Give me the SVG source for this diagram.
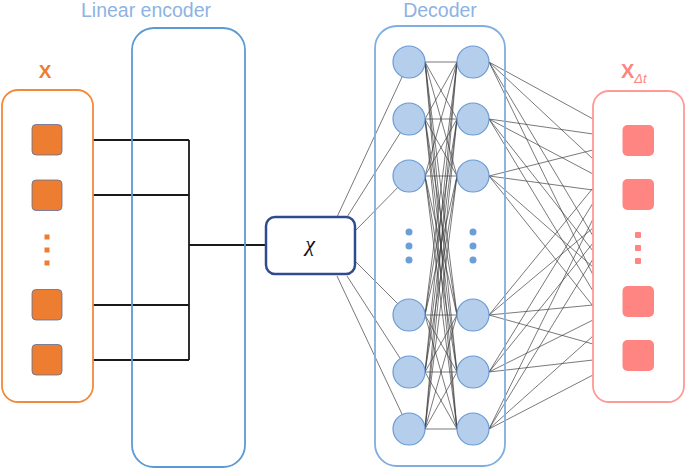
<svg xmlns="http://www.w3.org/2000/svg" width="685" height="469" viewBox="0 0 685 469">
<style>
.lbl{font-family:"Liberation Sans",Arial,sans-serif;font-size:19.5px;fill:#8DB3E2;text-anchor:middle}
.enc{stroke:#1a1a1a;stroke-width:1.8;fill:none}
.net{stroke:#3a3a3a;stroke-width:0.75;fill:none;opacity:0.9}
.node{fill:#B4CEEC;stroke:#6A9BD6;stroke-width:1.2}
.ddot{fill:#6A9FD8}
.sq{fill:#ED7D31;stroke:#5E6E9A;stroke-width:0.8}
.osq{fill:#FF8582}
</style>
<rect width="685" height="469" fill="#fff"/>
<text class="lbl" x="146" y="17">Linear encoder</text>
<text class="lbl" x="440" y="17">Decoder</text>
<g id="connectors">
<g id="enc-lines">
<path class="enc" d="M93 140H189M93 195H189M93 305H189M93 360H189M189 140V360M189 245H266"/>
</g>
<g id="chi-lines" class="net">
<line x1="337" y1="217" x2="409" y2="62"/>
<line x1="347" y1="217" x2="409" y2="119"/>
<line x1="356" y1="230" x2="409" y2="176"/>
<line x1="356" y1="262" x2="409" y2="315"/>
<line x1="347" y1="276" x2="409" y2="372"/>
<line x1="337" y1="276" x2="409" y2="429"/>
</g>
<g id="hidden-lines" class="net">
<path d="M425 62L457 62M425 62L457 119M425 62L457 176M425 62L457 315M425 62L457 372M425 62L457 429
M425 119L457 62M425 119L457 119M425 119L457 176M425 119L457 315M425 119L457 372M425 119L457 429
M425 176L457 62M425 176L457 119M425 176L457 176M425 176L457 315M425 176L457 372M425 176L457 429
M425 315L457 62M425 315L457 119M425 315L457 176M425 315L457 315M425 315L457 372M425 315L457 429
M425 372L457 62M425 372L457 119M425 372L457 176M425 372L457 315M425 372L457 372M425 372L457 429
M425 429L457 62M425 429L457 119M425 429L457 176M425 429L457 315M425 429L457 372M425 429L457 429"/>
</g>
<g id="out-lines" class="net">
<path d="M489 62L593 119M489 62L593 159M489 62L593 236M489 62L593 275
M489 119L593 134M489 119L593 174M489 119L593 251M489 119L593 291
M489 176L593 150M489 176L593 190M489 176L593 267M489 176L593 306
M489 315L593 188M489 315L593 228M489 315L593 305M489 315L593 344
M489 372L593 203M489 372L593 243M489 372L593 320M489 372L593 360
M489 429L593 219M489 429L593 259M489 429L593 336M489 429L593 375"/>
</g>
</g>
<g id="input">
<rect x="2" y="90" width="91" height="312" rx="16" fill="none" stroke="#F28A3C" stroke-width="1.8"/>
<text x="45" y="78" font-family="Liberation Sans,Arial,sans-serif" font-size="19" font-weight="bold" fill="#ED7D31" text-anchor="middle">X</text>
<rect class="sq" x="32" y="124.5" width="30" height="30.5" rx="4"/>
<rect class="sq" x="32" y="180" width="30" height="30.5" rx="4"/>
<rect class="sq" x="32" y="289.5" width="30" height="30.5" rx="4"/>
<rect class="sq" x="32" y="344.5" width="30" height="30.5" rx="4"/>
<rect x="44.5" y="234.5" width="5" height="5" fill="#ED7D31"/>
<rect x="44.5" y="247.5" width="5" height="5" fill="#ED7D31"/>
<rect x="44.5" y="260.5" width="5" height="5" fill="#ED7D31"/>
</g>
<g id="encoder">
<rect x="132" y="28" width="113" height="439" rx="22" fill="none" stroke="#5B9BD5" stroke-width="1.8"/>
</g>
<g id="chi">
<rect x="266" y="217" width="89" height="57" rx="9" fill="#fff" stroke="#2F4B8F" stroke-width="2.5"/>
<text x="310" y="251" font-family="Liberation Serif,Times New Roman,serif" font-size="22" font-style="italic" fill="#111" text-anchor="middle">χ</text>
</g>
<g id="decoder">
<rect x="375" y="26" width="130" height="440" rx="22" fill="none" stroke="#7FAEE0" stroke-width="1.8"/>
<circle class="node" cx="409" cy="62" r="16"/>
<circle class="node" cx="409" cy="119" r="16"/>
<circle class="node" cx="409" cy="176" r="16"/>
<circle class="node" cx="409" cy="315" r="16"/>
<circle class="node" cx="409" cy="372" r="16"/>
<circle class="node" cx="409" cy="429" r="16"/>
<circle class="node" cx="473" cy="62" r="16"/>
<circle class="node" cx="473" cy="119" r="16"/>
<circle class="node" cx="473" cy="176" r="16"/>
<circle class="node" cx="473" cy="315" r="16"/>
<circle class="node" cx="473" cy="372" r="16"/>
<circle class="node" cx="473" cy="429" r="16"/>
<circle class="ddot" cx="409" cy="232" r="3.5"/>
<circle class="ddot" cx="409" cy="246" r="3.5"/>
<circle class="ddot" cx="409" cy="260" r="3.5"/>
<circle class="ddot" cx="473" cy="232" r="3.5"/>
<circle class="ddot" cx="473" cy="246" r="3.5"/>
<circle class="ddot" cx="473" cy="260" r="3.5"/>
</g>
<g id="output">
<rect x="593" y="91" width="91" height="311" rx="16" fill="#fff" stroke="#FF9A98" stroke-width="1.8"/>
<text x="621" y="78" font-family="Liberation Sans,Arial,sans-serif" font-size="20" font-weight="bold" fill="#FF8582">X<tspan font-size="13" font-weight="normal" font-style="italic" dy="5">Δt</tspan></text>
<rect class="osq" x="622.5" y="125" width="31.5" height="31" rx="5"/>
<rect class="osq" x="622.5" y="179" width="31.5" height="31" rx="5"/>
<rect class="osq" x="622.5" y="286" width="31.5" height="31" rx="5"/>
<rect class="osq" x="622.5" y="340" width="31.5" height="31" rx="5"/>
<rect class="osq" x="635" y="232" width="6" height="6" rx="1"/>
<rect class="osq" x="635" y="245" width="6" height="6" rx="1"/>
<rect class="osq" x="635" y="258" width="6" height="6" rx="1"/>
</g>
</svg>
